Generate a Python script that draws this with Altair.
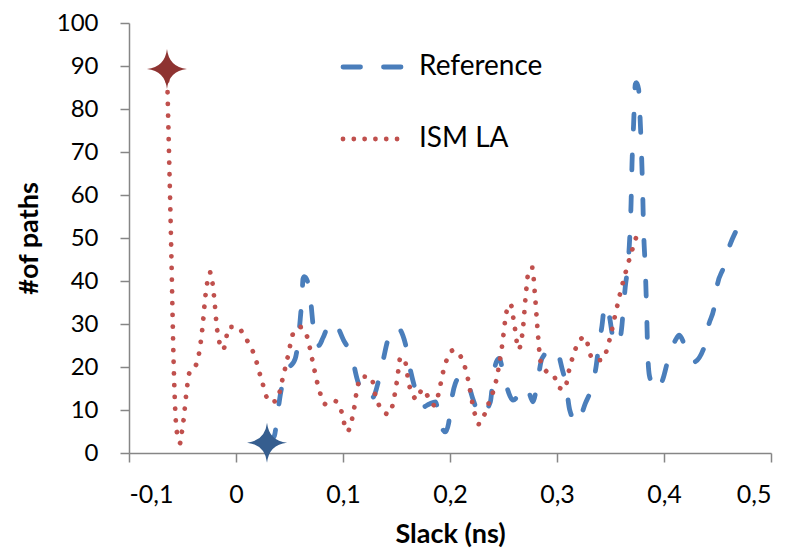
import altair as alt
import pandas as pd

# Reference series (blue dashed)
ref_x = [0.031, 0.0358, 0.0389, 0.0414, 0.0461, 0.0554, 0.0585, 0.0601, 0.0617, 0.0626,
         0.0638, 0.0679, 0.0701, 0.072, 0.0741, 0.0774, 0.0813, 0.0875, 0.091, 0.1006,
         0.1084, 0.1131, 0.1193, 0.1236, 0.1286, 0.1333, 0.1379, 0.1417, 0.1498, 0.1582,
         0.162, 0.166, 0.1748, 0.1807, 0.1863, 0.1909, 0.1956, 0.1987, 0.2012, 0.205,
         0.2106, 0.2159, 0.2215, 0.2283, 0.2377, 0.2402, 0.2433, 0.2461, 0.2486, 0.2526,
         0.2589, 0.2682, 0.2713, 0.2776, 0.2813, 0.286, 0.2963, 0.2993, 0.3047, 0.3087,
         0.3118, 0.3187, 0.3264, 0.3327, 0.3367, 0.3389, 0.3421, 0.3442, 0.3461, 0.3492,
         0.352, 0.3545, 0.3576, 0.3607, 0.3622, 0.3638, 0.3664, 0.3676, 0.3692, 0.3701,
         0.3716, 0.3732, 0.3741, 0.3763, 0.3772, 0.3788, 0.38, 0.3809, 0.3825, 0.3837,
         0.3847, 0.3863, 0.3912, 0.3937, 0.3991, 0.4037, 0.4106, 0.4143, 0.4199, 0.4274,
         0.4377, 0.4417, 0.447, 0.4495, 0.4557, 0.4604, 0.4667]
ref_y = [2.4, 3.9, 9.2, 13.5, 18.5, 22, 27, 31.3, 36.3, 40.5,
         41, 39, 34.7, 29.7, 25.5, 25, 26.8, 30.2, 30.6, 26.2,
         22.3, 17.3, 13.3, 12.3, 13.1, 16.9, 22, 26.1, 29.4, 25.5,
         20.4, 16.2, 10.7, 11.4, 11.9, 6.9, 4.9, 6.9, 11.9, 16.2,
         18.1, 16.9, 12.5, 8.7, 11.9, 17.3, 21.2, 22, 20, 15.8,
         12.3, 15, 15.5, 11.9, 15.8, 22, 24.3, 24.1, 19.7, 15.4,
         10.1, 6.9, 11.5, 15.5, 20.4, 24.7, 29.7, 33.9, 34.6, 31.5,
         27.1, 25.3, 25.5, 29.7, 34.3, 38.6, 44, 48.3, 57.9, 67.2,
         76.5, 85.8, 86.1, 84.6, 80.3, 70.9, 61.4, 52.1, 42.9, 33.6,
         24.1, 18.1, 15, 14.6, 17.3, 21.6, 26.2, 27.4, 24.7, 21.1,
         24.7, 29.7, 34.1, 38.6, 43.2, 47.5, 51.3]

# ISM LA series (red dotted)
ism_x = [-0.0645, -0.0607, -0.058, -0.0555, -0.052, -0.0505, -0.049, -0.0467, -0.0436, -0.0368,
         -0.0315, -0.0284, -0.024, -0.0206, -0.0175, -0.0121, -0.0063, 0.0012, 0.008, 0.0178,
         0.024, 0.0314, 0.0377, 0.0436, 0.0486, 0.0536, 0.0604, 0.0664, 0.0713, 0.076,
         0.0841, 0.0925, 0.0978, 0.104, 0.11, 0.1134, 0.1174, 0.1262, 0.1314, 0.1426,
         0.1467, 0.1505, 0.1538, 0.158, 0.1617, 0.1692, 0.1741, 0.18, 0.1853, 0.1891,
         0.1937, 0.2031, 0.2103, 0.2168, 0.2208, 0.2271, 0.2323, 0.2361, 0.243, 0.2486,
         0.2529, 0.2564, 0.2604, 0.2641, 0.2682, 0.271, 0.2738, 0.2769, 0.2791, 0.2816,
         0.2847, 0.2893, 0.2972, 0.3015, 0.3068, 0.3121, 0.319, 0.3258, 0.3333, 0.3417,
         0.3495, 0.3542, 0.3592, 0.3648, 0.3744]
ism_y = [89.3, 49.4, 18.4, 5.3, 2.3, 5, 7.7, 13.2, 18.6, 20.8,
         28.8, 36.9, 42, 36.6, 28.5, 24, 29.3, 29.3, 27.1, 22.3,
         16.9, 11.9, 12.1, 17.3, 22.6, 27.9, 29.3, 27.1, 21.7, 16.3,
         11.3, 12.1, 10.2, 5, 9.8, 15.2, 17.8, 17.6, 12.3, 9,
         11.5, 16.9, 22.3, 21.3, 15.9, 12.5, 14.9, 12.9, 11.1, 13.6,
         19, 23.9, 22.3, 17.2, 11.8, 6.7, 9, 11.5, 16.7, 24.8,
         32.9, 34.7, 29.4, 24.1, 29, 37.2, 42.7, 43.1, 37.7, 29.5,
         21.3, 19.2, 17.9, 15.3, 14.8, 20.1, 25.2, 27, 21.8, 21.6,
         26.7, 31.9, 37.3, 42.6, 50.5]

series_names = ["Reference", "ISM LA"]
line_colors = ["#4A7EBB", "#C0504D"]
line_dashes = [[15, 26], [0.01, 11.7]]
legend_dashes = [[17.5, 23], [0.01, 10.8]]

# Star markers (minimum slack points)
star_x = [-0.0645, 0.029]
star_y = [89.3, 2.4]
star_colors = ["#8E3331", "#365E8F"]

x_ticks = [-0.1, 0.0, 0.1, 0.2, 0.3, 0.4, 0.5]
y_ticks = [0, 10, 20, 30, 40, 50, 60, 70, 80, 90, 100]

df = pd.concat([
    pd.DataFrame({"slack": ref_x, "paths": ref_y, "series": "Reference"}),
    pd.DataFrame({"slack": ism_x, "paths": ism_y, "series": "ISM LA"}),
], ignore_index=True)
stars = pd.DataFrame({"slack": star_x, "paths": star_y, "c": star_colors})

FONT = "Lato"
AX = "#868686"

x_enc = alt.X("slack:Q",
              scale=alt.Scale(domain=[-0.1, 0.5], nice=False, zero=False),
              axis=alt.Axis(values=x_ticks, title="Slack (ns)",
                            labelExpr="datum.value == 0 ? '0' : (datum.value < 0 ? '-' : '') + replace(format(abs(datum.value), '.1f'), '.', ',')",
                            grid=False, domainColor=AX, tickColor=AX, tickSize=9,
                            domainWidth=1.5, tickWidth=1.5,
                            labelFont=FONT, labelFontSize=25, labelColor="black",
                            labelPadding=20, titleFont=FONT, titleFontSize=27,
                            titleFontWeight="bold", titleColor="black", titlePadding=14))
y_enc = alt.Y("paths:Q",
              scale=alt.Scale(domain=[0, 100], nice=False),
              axis=alt.Axis(values=y_ticks, title="#of paths", grid=False,
                            domainColor=AX, tickColor=AX, tickSize=9,
                            domainWidth=1.5, tickWidth=1.5,
                            labelFont=FONT, labelFontSize=24, labelColor="black",
                            labelPadding=22, titleFont=FONT, titleFontSize=27,
                            titleFontWeight="bold", titleColor="black", titlePadding=13))

lines = alt.Chart(df).mark_line(interpolate="monotone", strokeCap="round", strokeWidth=4.8).encode(
    x=x_enc,
    y=y_enc,
    color=alt.Color("series:N", scale=alt.Scale(domain=series_names, range=line_colors), legend=None),
    strokeDash=alt.StrokeDash("series:N", scale=alt.Scale(domain=series_names, range=line_dashes), legend=None),
)

star_path = "M0,-1 Q0.1,-0.1 1,0 Q0.1,0.1 0,1 Q-0.1,0.1 -1,0 Q-0.1,-0.1 0,-1 Z"
pts = alt.Chart(stars).mark_point(shape=star_path, filled=True, size=1600, opacity=1, strokeWidth=0).encode(
    x="slack:Q", y="paths:Q", color=alt.Color("c:N", scale=None)
)

# Legend (drawn inside the plot, like the original)
leg_layers = []
for i, name in enumerate(series_names):
    row_y = 44 + 72 * i
    leg_layers.append(
        alt.Chart(pd.DataFrame({"series": [name]})).mark_rule(
            color=line_colors[i], strokeDash=legend_dashes[i], strokeCap="round", strokeWidth=4.8
        ).encode(x=alt.value(214), x2=alt.value(272), y=alt.value(row_y))
    )
    leg_layers.append(
        alt.Chart(pd.DataFrame({"series": [name]})).mark_text(
            align="left", baseline="middle", font=FONT, fontSize=28, color="black"
        ).encode(text="series:N", x=alt.value(290), y=alt.value(row_y))
    )

chart = alt.layer(lines, pts, *leg_layers).properties(
    width=642, height=430,
    autosize=alt.AutoSizeParams(type="none"),
    padding={"left": 121, "top": 15, "right": 5, "bottom": 97},
).configure_view(stroke=None)

chart.save("out.html", embed_options={"renderer": "svg", "actions": False})
